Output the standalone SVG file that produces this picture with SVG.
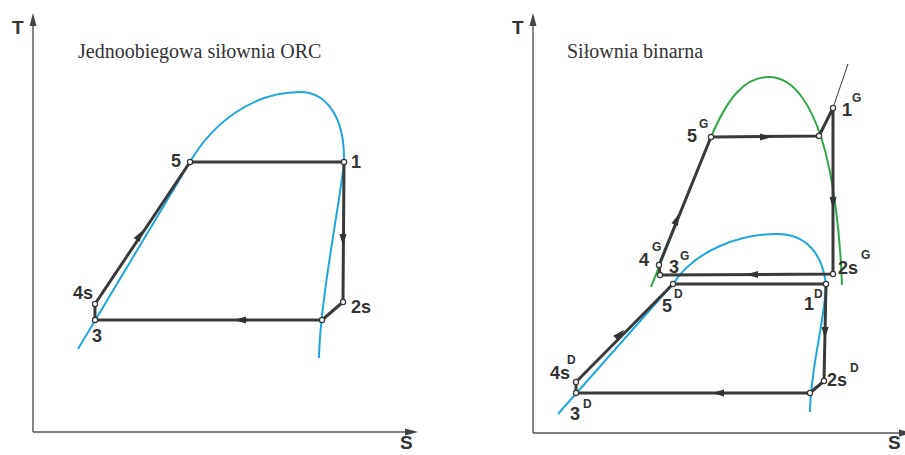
<svg xmlns="http://www.w3.org/2000/svg" xmlns:xlink="http://www.w3.org/1999/xlink" width="905" height="455" viewBox="0 0 905 455">
<style>
.ax{stroke:#555;stroke-width:1.4;fill:none}
.axh{fill:#444}
.cyc{stroke:#3a3a3a;stroke-width:3;fill:none;stroke-linejoin:round}
.thin{stroke:#3a3a3a;stroke-width:1;fill:none}
.blue{stroke:#1fa6de;stroke-width:2;fill:none}
.green{stroke:#33a54a;stroke-width:2;fill:none}
.pt{fill:#fff;stroke:#333;stroke-width:1.2}
.lb{font-family:"Liberation Sans",Arial,sans-serif;font-weight:bold;font-size:18px;fill:#333}
.ax-lb{font-family:"Liberation Sans",Arial,sans-serif;font-weight:bold;font-size:19px;fill:#333}
.sp{font-family:"Liberation Sans",Arial,sans-serif;font-weight:bold;font-size:12px;fill:#333}
.ti{font-family:"Liberation Serif","Times New Roman",serif;font-size:20px;fill:#333}
.ah{fill:#333}
</style>
<defs>
<path id="ah" d="M6,0 L-6,-3.5 L-6,3.5 Z"/>
</defs>
<rect width="905" height="455" fill="#fff"/>
<!-- axes -->
<g id="axes">
<path class="ax" d="M33,432 V20 M33,432 H408"/>
<path class="axh" d="M33,13 L29.5,26 L36.5,26 Z M418,432 L405,428.5 L405,435.5 Z"/>
<path class="ax" d="M533,433 V20 M533,433 H900"/>
<path class="axh" d="M533,13 L529.5,26 L536.5,26 Z M912,433 L899,429.5 L899,436.5 Z"/>
<text class="ax-lb" x="12" y="34">T</text>
<text class="ax-lb" x="400" y="449">S</text>
<text class="ax-lb" x="888" y="449">S</text>
<text class="ax-lb" x="512" y="34">T</text>
</g>
<text class="ti" x="78" y="58">Jednoobiegowa siłownia ORC</text>
<text class="ti" x="567" y="58">Siłownia binarna</text>
<!-- saturation curves -->
<g id="curves">
<path class="blue" d="M78,349 L190,162 C212,124 252,92 300,92 C325,92 345,115 344,162 C342,190 320,300 319,358"/>
<path class="green" d="M651,287 C670,240 695,175 711,137 C728,97 745,77 769,77 C795,77 812,108 822,140 C833,175 840,230 842,285"/>
<path class="blue" d="M558,414 L673,284 C695,250 740,234 777,234 C805,234 822,252 826,284 C825,320 810,370 810,412"/>
</g>
<!-- connectors -->
<g id="connectors">
<path class="cyc" d="M95,304 L190,162 L344,162 L343,302 L322,320 L95,320 Z"/>
<path class="cyc" d="M659,265 L711,137 L819,136 L833,108 L833,274 L660,275 Z"/>
<path class="thin" d="M833,108 L848,64"/>
<path class="cyc" d="M576,382 L673,284 L826,284 L824,381 L810,393 L576,393 Z"/>
<use xlink:href="#ah" class="ah" transform="translate(140,235) rotate(-56.2)"/>
<use xlink:href="#ah" class="ah" transform="translate(343,240) rotate(90)"/>
<use xlink:href="#ah" class="ah" transform="translate(240,320) rotate(180)"/>
<use xlink:href="#ah" class="ah" transform="translate(766,137) rotate(0)"/>
<use xlink:href="#ah" class="ah" transform="translate(833,203) rotate(90)"/>
<use xlink:href="#ah" class="ah" transform="translate(752,274.5) rotate(180)"/>
<use xlink:href="#ah" class="ah" transform="translate(677,219) rotate(-67.9)"/>
<use xlink:href="#ah" class="ah" transform="translate(620,334) rotate(-45.3)"/>
<use xlink:href="#ah" class="ah" transform="translate(825,333) rotate(91)"/>
<use xlink:href="#ah" class="ah" transform="translate(718,393) rotate(180)"/>
</g>
<!-- left nodes -->
<g id="n5"><circle class="pt" cx="190" cy="162" r="2.6"/><text class="lb" x="171" y="167">5</text></g>
<g id="n1"><circle class="pt" cx="344" cy="162" r="2.6"/><text class="lb" x="351" y="168">1</text></g>
<g id="n2s"><circle class="pt" cx="343" cy="302" r="2.6"/><text class="lb" x="351" y="313">2s</text></g>
<g id="n2"><circle class="pt" cx="322" cy="320" r="2.6"/></g>
<g id="n3"><circle class="pt" cx="95" cy="320" r="2.6"/><text class="lb" x="92" y="342">3</text></g>
<g id="n4s"><circle class="pt" cx="95" cy="304" r="2.6"/><text class="lb" x="73" y="299">4s</text></g>
<!-- right G nodes -->
<g id="n5G"><circle class="pt" cx="711" cy="137" r="2.6"/><text class="lb" x="687" y="142">5</text><text class="sp" x="699" y="128">G</text></g>
<g id="nG2"><circle class="pt" cx="819" cy="136" r="2.6"/></g>
<g id="n1G"><circle class="pt" cx="833" cy="108" r="2.6"/><text class="lb" x="842" y="116">1</text><text class="sp" x="852" y="102">G</text></g>
<g id="n2sG"><circle class="pt" cx="833" cy="274" r="2.6"/><text class="lb" x="838" y="274">2s</text><text class="sp" x="861" y="259">G</text></g>
<g id="n3G"><circle class="pt" cx="660" cy="275" r="2.6"/><text class="lb" x="669" y="273">3</text><text class="sp" x="680" y="260">G</text></g>
<g id="n4G"><circle class="pt" cx="659" cy="265" r="2.6"/><text class="lb" x="639" y="266">4</text><text class="sp" x="652" y="251">G</text></g>
<!-- right D nodes -->
<g id="n5D"><circle class="pt" cx="673" cy="284" r="2.6"/><text class="lb" x="662" y="312">5</text><text class="sp" x="674" y="298">D</text></g>
<g id="n1D"><circle class="pt" cx="826" cy="284" r="2.6"/><text class="lb" x="804" y="310">1</text><text class="sp" x="814" y="298">D</text></g>
<g id="n2sD"><circle class="pt" cx="824" cy="381" r="2.6"/><text class="lb" x="827" y="386">2s</text><text class="sp" x="850" y="372">D</text></g>
<g id="nD2"><circle class="pt" cx="810" cy="393" r="2.6"/></g>
<g id="n3D"><circle class="pt" cx="576" cy="393" r="2.6"/><text class="lb" x="570" y="420">3</text><text class="sp" x="583" y="408">D</text></g>
<g id="n4sD"><circle class="pt" cx="576" cy="382" r="2.6"/><text class="lb" x="550" y="379">4s</text><text class="sp" x="567" y="364">D</text></g>
</svg>
